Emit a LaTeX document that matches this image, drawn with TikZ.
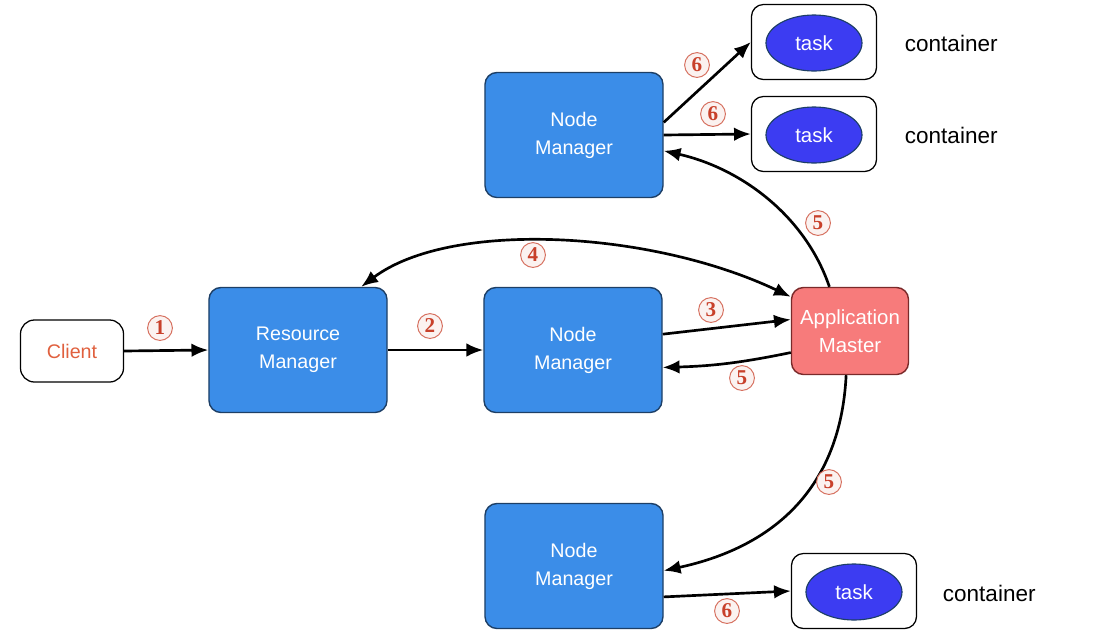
\documentclass[tikz,border=0pt]{standalone}
\usepackage{fontspec}
\setmainfont{Liberation Sans}
\newfontfamily\numfont{Liberation Serif}
\usetikzlibrary{arrows.meta,shapes.geometric}
\definecolor{boxblue}{HTML}{3B8DE8}
\definecolor{boxedge}{HTML}{1D3F66}
\definecolor{amred}{HTML}{F77B7B}
\definecolor{amedge}{HTML}{7A2A2A}
\definecolor{taskblue}{HTML}{3C3CF2}
\definecolor{numred}{HTML}{C8402A}
\definecolor{clientred}{HTML}{E0603E}
\tikzset{
  mgr/.style={draw=boxedge,line width=1pt,fill=boxblue,rounded corners=0.3cm,minimum width=4.45cm,minimum height=3.125cm,align=center,text=white,font=\fontsize{14}{20}\selectfont},
  ctbox/.style={draw=black,line width=0.9pt,fill=white,rounded corners=0.3cm,minimum width=3.125cm,minimum height=1.875cm},
  taskell/.style={ellipse,draw=boxedge,line width=0.8pt,fill=taskblue,minimum width=2.4cm,minimum height=1.4cm,text=white,font=\fontsize{14.5}{17}\selectfont},
  ctlabel/.style={anchor=west,font=\fontsize{16}{19}\selectfont},
  num/.style={circle,draw=numred!75,line width=0.7pt,fill=numred!7,inner sep=0pt,minimum size=0.62cm,text=numred,font=\numfont\bfseries\fontsize{15}{15}\selectfont},
  arr/.style={-{Latex[length=4.2mm,width=3.4mm]},line width=1.9pt}
}
\begin{document}
\begin{tikzpicture}[x=0.025cm,y=-0.025cm]
\useasboundingbox (0,0) rectangle (1120,640);
% boxes
\node[draw=black,line width=0.9pt,rounded corners=0.35cm,minimum width=2.575cm,minimum height=1.55cm,text=clientred,font=\fontsize{14}{17}\selectfont] (cl) at (72,351) {Client};
\node[mgr] (rm) at (298,350) {Resource\\Manager};
\node[mgr] (nm) at (573,350) {Node\\Manager};
\node[mgr] (nmt) at (574,135) {Node\\Manager};
\node[mgr] (nmb) at (574,566) {Node\\Manager};
\node[draw=amedge,line width=1pt,fill=amred,rounded corners=0.3cm,minimum width=2.925cm,minimum height=2.175cm,align=center,text=white,font=\fontsize{14.5}{20}\selectfont] (am) at (850,331) {Application\\Master};
% containers
\node[ctbox] (c1) at (814,42) {};
\node[taskell] (t1) at (814,43) {task};
\node[ctlabel] (l1) at (900,43) {container};
\node[ctbox] (c2) at (814,134) {};
\node[taskell] (t2) at (814,135) {task};
\node[ctlabel] (l2) at (900,135) {container};
\node[ctbox] (c3) at (854,591) {};
\node[taskell] (t3) at (854,592) {task};
\node[ctlabel] (l3) at (938,593) {container};
% arrows
\draw[arr] (cl.east) -- (rm.west);
\draw[arr] (rm.east) -- (nm.west);
\draw[arr] (nm.10) -- (am.169);
\draw[{Latex[length=4.2mm,width=3.4mm]}-{Latex[length=4.2mm,width=3.4mm]},line width=1.9pt] (rm.45) .. controls (450,220) and (650,230) .. (am.150);
\draw[arr] (am.200) to[bend left=5] (nm.349);
\draw[arr] (am.115) .. controls (805,215) and (740,168) .. (nmt.350);
\draw[arr] (am.265) .. controls (840,500) and (760,550) .. (nmb.357);
\draw[arr] (nmt.8) -- (c1.west);
\draw[arr] (nmt.east) -- (c2.west);
\draw[arr] (nmb.341) -- (c3.west);
% step numbers
\node[num] (n1) at (160,328) {1};
\node[num] (n2) at (430,326) {2};
\node[num] (n3) at (711,310) {3};
\node[num] (n4) at (533,255) {4};
\node[num] (n5a) at (742,378) {5};
\node[num] (n5b) at (818,223) {5};
\node[num] (n5c) at (829,482) {5};
\node[num] (n6a) at (697,65) {6};
\node[num] (n6b) at (713,114) {6};
\node[num] (n6c) at (727,611) {6};
\end{tikzpicture}
\end{document}
